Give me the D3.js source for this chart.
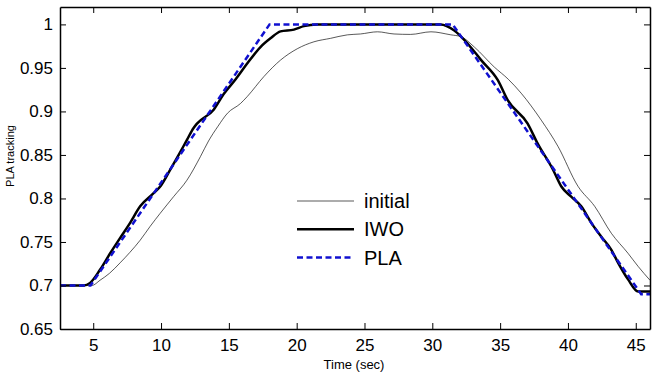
<!DOCTYPE html>
<html>
<head>
<meta charset="utf-8">
<script src="https://cdn.jsdelivr.net/npm/d3@7"></script>
<style>
    body { margin: 0; background: #fff; }
    text { font-family: "Liberation Sans", Arial, sans-serif; }
</style>
</head>
<body>
<svg id="drawing_region"></svg>
<script>
// data
const xTicks = [5, 10, 15, 20, 25, 30, 35, 40, 45];
const yTicks = [0.65, 0.7, 0.75, 0.8, 0.85, 0.9, 0.95, 1];
const seriesNames = ['initial', 'IWO', 'PLA'];

const initialT = [2.55, 4.9, 5.5, 6.2, 6.98, 7.7, 8.46, 9.2, 9.94, 10.92, 11.91, 12.9, 13.5, 14.2, 14.9, 15.85,
    16.35, 17.58, 18.81, 20.04, 21.27, 22.5, 23.74, 24.7, 25.96, 27.18, 28.4, 29.9, 31.37, 32.1, 33.1, 34.57,
    35.6, 36.55, 38.03, 39.26, 40.74, 41.97, 43.2, 44.43, 45.17, 46.05];
const initialV = [0.7, 0.7, 0.706, 0.714, 0.726, 0.738, 0.752, 0.768, 0.783, 0.802, 0.821, 0.848, 0.866, 0.883, 0.898, 0.909,
    0.917, 0.94, 0.959, 0.972, 0.98, 0.984, 0.988, 0.989, 0.9915, 0.989, 0.9885, 0.9915, 0.988, 0.986, 0.974, 0.951,
    0.937, 0.921, 0.89, 0.86, 0.814, 0.791, 0.76, 0.737, 0.722, 0.706];

const iwoT = [2.55, 4.3, 4.77, 5.5, 6.25, 7.0, 7.72, 8.46, 9.45, 10.0, 10.68, 11.3, 11.9, 12.4, 12.65, 13.88, 14.62,
    15.5, 16.35, 17.33, 18.07, 18.81, 19.8, 20.53, 21.5, 30.6, 31.62, 32.6, 33.6, 34.83, 35.56, 37.03, 37.77, 38.9,
    39.5, 40.24, 40.98, 41.72, 42.46, 43.2, 43.7, 44.43, 45.17, 46.05];
const iwoV = [0.7, 0.7, 0.703, 0.718, 0.737, 0.755, 0.772, 0.791, 0.806, 0.815, 0.833, 0.85, 0.867, 0.881, 0.886, 0.902, 0.92,
    0.937, 0.955, 0.974, 0.984, 0.992, 0.994, 0.998, 1.0, 1.0, 0.993, 0.978, 0.959, 0.936, 0.913, 0.886, 0.863, 0.833,
    0.814, 0.802, 0.791, 0.772, 0.756, 0.741, 0.726, 0.707, 0.693, 0.693];

const plaT = [2.55, 4.8, 18.0, 31.5, 45.4, 46.05];
const plaV = [0.7, 0.7, 1.0, 1.0, 0.69, 0.69];

class LineChart {
    constructor(config, series) {
        this.config = config;
        this.series = series;
        this.init();
    }
    init() {
        let self = this;
        const m = self.config.margin;

        self.svg = d3.select(self.config.parent)
            .attr('width', self.config.width)
            .attr('height', self.config.height);

        self.chart = self.svg.append('g')
            .attr('transform', `translate(${m.left}, ${m.top})`);
        self.inner_width = self.config.width - m.left - m.right;
        self.inner_height = self.config.height - m.top - m.bottom;

        self.xscale = d3.scaleLinear()
            .domain([2.55, 46.05])
            .range([0, self.inner_width]);
        self.yscale = d3.scaleLinear()
            .domain([0.65, 1.02])
            .range([self.inner_height, 0]);
    }
    render() {
        let self = this;
        const w = self.inner_width, h = self.inner_height;

        self.chart.selectAll('path.series')
            .data(self.series)
            .enter()
            .append('path')
            .attr('class', 'series')
            .attr('d', d => d3.line()
                .x(p => self.xscale(p[0]))
                .y(p => self.yscale(p[1]))
                .curve(d.smooth ? d3.curveMonotoneX : d3.curveLinear)(d3.zip(d.t, d.v)))
            .attr('fill', 'none')
            .attr('stroke', d => d.color)
            .attr('stroke-width', d => d.width)
            .attr('stroke-dasharray', d => d.dash);

        // axes, ticks pointing inward
        const xaxis = d3.axisBottom(self.xscale).tickValues(xTicks).tickSizeInner(-6).tickSizeOuter(0).tickPadding(10);
        const yaxis = d3.axisLeft(self.yscale).tickValues(yTicks).tickSizeInner(-6).tickSizeOuter(0).tickPadding(7)
            .tickFormat(d3.format('~g'));
        const xtop = d3.axisTop(self.xscale).tickValues(xTicks).tickSizeInner(-6).tickSizeOuter(0).tickFormat('');
        const yright = d3.axisRight(self.yscale).tickValues(yTicks).tickSizeInner(-6).tickSizeOuter(0).tickFormat('');

        const groups = [
            self.chart.append('g').attr('transform', `translate(0, ${h})`).call(xaxis),
            self.chart.append('g').call(yaxis),
            self.chart.append('g').call(xtop),
            self.chart.append('g').attr('transform', `translate(${w}, 0)`).call(yright)
        ];
        groups.forEach(g => {
            g.selectAll('path.domain').attr('stroke', '#000').attr('stroke-width', 1.5);
            g.selectAll('.tick line').attr('stroke', '#000').attr('stroke-width', 1);
            g.selectAll('.tick text').attr('font-size', 17).attr('fill', '#000')
                .style('font-family', '"Liberation Sans", Arial, sans-serif');
        });

        // axis titles
        self.svg.append('text')
            .attr('x', 354).attr('y', 369)
            .attr('text-anchor', 'middle')
            .attr('font-size', 13)
            .text('Time (sec)');
        self.svg.append('text')
            .attr('transform', 'translate(14, 156) rotate(-90)')
            .attr('text-anchor', 'middle')
            .attr('font-size', 11)
            .text('PLA tracking');

        // legend
        const legend = self.svg.append('g').attr('transform', 'translate(297, 201)');
        const item = legend.selectAll('g')
            .data(self.series)
            .enter()
            .append('g')
            .attr('transform', (d, i) => `translate(0, ${i * 28.3})`);
        item.append('line')
            .attr('x1', 0).attr('x2', 57)
            .attr('stroke', d => d.color)
            .attr('stroke-width', d => d.width)
            .attr('stroke-dasharray', d => d.dash);
        item.append('text')
            .attr('x', 67).attr('y', 7)
            .attr('font-size', 20)
            .text(d => d.name);
    }
}

const series = [
    {name: seriesNames[0], t: initialT, v: initialV, color: '#111', width: 0.7, dash: null, smooth: true},
    {name: seriesNames[1], t: iwoT, v: iwoV, color: '#000', width: 2.5, dash: null, smooth: true},
    {name: seriesNames[2], t: plaT, v: plaV, color: '#1010d0', width: 2.5, dash: '6,3.5', smooth: false}
];

const chart = new LineChart({
    parent: '#drawing_region',
    width: 656,
    height: 372,
    margin: {top: 7, right: 6, bottom: 43, left: 60}
}, series);
chart.render();
</script>
</body>
</html>
